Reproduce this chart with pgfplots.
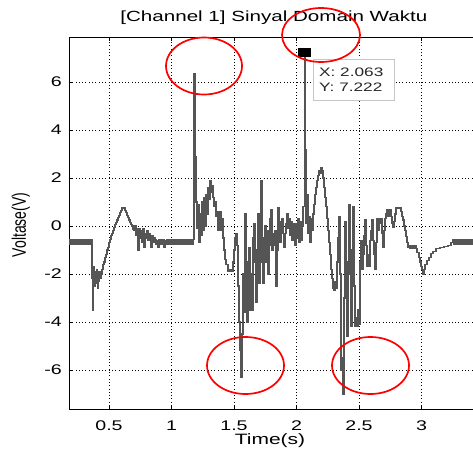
\documentclass[border=0pt]{standalone}
\usepackage{pgfplots}
\pgfplotsset{compat=1.18}
\usepackage{fontspec}
\setmainfont{Liberation Sans}
\newfontfamily\wf[FakeStretch=1.4]{Liberation Sans}
\definecolor{sig}{RGB}{85,85,85}
\begin{document}
\begin{tikzpicture}
\begin{axis}[
 at={(0pt,0pt)}, anchor=south west,
 scale only axis, width=411pt, height=372pt,
 xmin=0.18, xmax=3.468, ymin=-7.625, ymax=7.875,
 xtick={0.5,1,1.5,2,2.5,3}, ytick={-6,-4,-2,0,2,4,6},
 xticklabels={0.5,1,1.5,2,2.5,3},
 yticklabels={-6,-4,-2,0,2,4,6},
 grid=major, grid style={black, line width=0.6pt, dash pattern=on 0.7pt off 2.6pt},
 axis line style={black, line width=0.8pt},
 tick align=inside, major tick length=4pt, tick style={black, line width=0.6pt},
 xticklabel style={font=\wf\fontsize{14}{16}\selectfont, anchor=base, inner sep=0pt, yshift=-21pt},
 yticklabel style={font=\wf\fontsize{14}{16}\selectfont, anchor=east, inner sep=0pt, xshift=-7pt},
 title={[Channel 1] Sinyal Domain Waktu},
 title style={font=\wf\fontsize{14.7}{17}\selectfont, at={(axis description cs:0.4985,1)}, anchor=base, yshift=9.5pt, inner sep=0pt},
 xlabel={Time(s)},
 xlabel style={font=\wf\fontsize{15}{17}\selectfont, at={(axis description cs:0.489,0)}, anchor=base, yshift=-35pt, inner sep=0pt},
 ylabel={\scalebox{1}[1.4]{Voltase(V)}},
 ylabel style={font=\fontsize{14}{16}\selectfont, at={(axis description cs:-0.117,0.495)}, anchor=center, rotate=0, inner sep=0pt},
 clip=false,
]
\addplot[const plot, color=sig, line width=1.1pt] table {
x y
0.180 -0.55
0.188 -0.78
0.196 -0.55
0.204 -0.78
0.212 -0.55
0.220 -0.78
0.228 -0.55
0.236 -0.78
0.244 -0.55
0.252 -0.78
0.260 -0.55
0.268 -0.78
0.276 -0.55
0.284 -0.78
0.292 -0.55
0.300 -0.78
0.308 -0.55
0.316 -0.78
0.324 -0.55
0.332 -0.78
0.340 -0.55
0.348 -0.78
0.356 -0.55
0.364 -2.2
0.372 -3.5
0.376 -2.0
0.380 -1.7
0.384 -2.5
0.388 -2.0
0.392 -2.4
0.396 -1.9
0.400 -2.2
0.404 -1.8
0.408 -2.6
0.412 -2.0
0.416 -2.3
0.420 -1.9
0.428 -2.2
0.436 -2.0
0.444 -1.8
0.452 -1.6
0.460 -1.5
0.468 -1.3
0.476 -1.2
0.484 -1.0
0.492 -0.9
0.500 -0.7
0.508 -0.55
0.516 -0.4
0.524 -0.3
0.532 -0.2
0.540 -0.05
0.548 0.05
0.556 0.15
0.564 0.25
0.572 0.35
0.580 0.45
0.588 0.55
0.596 0.65
0.604 0.75
0.620 0.75
0.628 0.65
0.636 0.55
0.644 0.45
0.652 0.35
0.660 0.25
0.668 0.15
0.676 0.05
0.684 0.0
0.692 -0.15
0.700 -0.2
0.708 0.0
0.716 -0.4
0.724 -0.1
0.732 -1.0
0.740 -0.1
0.748 -0.5
0.756 -0.2
0.764 -0.7
0.772 -0.1
0.780 -0.9
0.788 -0.3
0.796 -0.5
0.804 -0.2
0.812 -0.6
0.820 -0.3
0.828 -0.5
0.836 -0.9
0.844 -0.4
0.852 -0.7
0.860 -0.5
0.868 -0.55
0.876 -0.75
0.884 -0.6
0.892 -0.9
0.900 -0.55
0.908 -0.75
0.916 -0.55
0.924 -0.75
0.932 -0.55
0.940 -0.9
0.948 -0.6
0.956 -0.75
0.964 -0.55
0.972 -0.75
0.980 -0.55
0.988 -0.75
0.996 -0.55
1.004 -0.75
1.012 -0.55
1.020 -0.75
1.028 -0.55
1.036 -0.75
1.044 -0.55
1.052 -0.75
1.060 -0.55
1.068 -0.75
1.076 -0.55
1.084 -0.75
1.092 -0.55
1.100 -0.75
1.108 -0.55
1.116 -0.75
1.124 -0.55
1.132 -0.75
1.140 -0.55
1.148 -0.75
1.156 -0.55
1.164 -0.75
1.172 -0.55
1.180 6.35
1.188 2.9
1.196 1.0
1.204 -0.1
1.212 0.9
1.220 -0.7
1.228 0.5
1.236 -0.4
1.244 1.0
1.252 -0.2
1.260 1.2
1.268 0.0
1.276 1.3
1.284 0.5
1.292 1.6
1.300 1.1
1.308 1.9
1.316 1.4
1.324 1.7
1.332 1.2
1.340 0.8
1.348 1.0
1.356 0.4
1.364 0.6
1.372 -0.2
1.380 0.3
1.388 0.6
1.396 -0.2
1.404 0.3
1.412 -0.5
1.420 -1.0
1.428 -1.4
1.436 -1.6
1.452 -1.9
1.468 -1.8
1.484 -1.9
1.492 -1.5
1.500 -1.0
1.508 -0.5
1.516 -0.3
1.524 -0.8
1.532 -2.5
1.540 -4.0
1.548 -5.2
1.556 -6.3
1.564 -4.5
1.572 -2.0
1.580 -3.6
1.588 0.5
1.596 -1.5
1.604 -4.0
1.612 -2.5
1.620 -0.9
1.628 -3.5
1.636 -2.0
1.644 -3.5
1.652 -0.5
1.660 0.1
1.668 -1.5
1.676 -3.2
1.684 -1.0
1.692 0.5
1.700 -2.4
1.708 -1.5
1.716 1.9
1.724 -0.5
1.732 -2.4
1.740 -1.0
1.748 0.0
1.756 -1.5
1.764 -0.2
1.772 -2.0
1.780 -0.8
1.788 0.3
1.796 0.67
1.804 -1.0
1.812 -0.3
1.820 -0.8
1.828 -0.2
1.836 -2.5
1.844 -1.0
1.852 0.75
1.860 0.2
1.868 -0.7
1.876 -0.2
1.884 0.3
1.892 -0.3
1.900 -0.9
1.908 -0.3
1.916 0.1
1.924 0.5
1.932 -0.1
1.940 0.3
1.948 -0.4
1.956 0.2
1.964 -0.6
1.972 0.1
1.980 -0.3
1.988 -0.8
1.996 0.1
2.004 -0.5
2.012 0.3
2.020 -0.7
2.028 0.2
2.036 -0.6
2.044 0.0
2.052 0.8
2.063 7.222
2.068 3.2
2.076 0.1
2.084 1.3
2.092 -0.3
2.100 0.4
2.108 -0.7
2.116 0.3
2.124 -0.2
2.132 0.5
2.140 0.9
2.148 1.3
2.156 1.6
2.164 1.9
2.172 2.1
2.180 2.3
2.188 2.2
2.196 2.45
2.204 2.3
2.212 2.0
2.220 1.6
2.228 1.2
2.236 0.8
2.244 0.3
2.252 -0.2
2.260 -0.7
2.268 -1.2
2.276 -1.8
2.284 -2.2
2.292 -2.6
2.300 -2.7
2.308 -2.3
2.316 -2.6
2.324 -1.5
2.332 -0.5
2.340 0.4
2.348 -2.0
2.356 -6.0
2.364 -5.5
2.372 -7.0
2.380 -3.0
2.388 0.2
2.396 -2.5
2.404 -4.6
2.412 -1.5
2.420 0.9
2.428 -2.0
2.436 -4.2
2.444 -1.0
2.452 0.8
2.460 -2.5
2.468 -4.2
2.476 -3.8
2.484 -4.2
2.492 -3.5
2.500 -4.1
2.508 -1.5
2.516 -0.6
2.524 -1.8
2.532 -1.2
2.540 -0.4
2.548 0.25
2.556 -0.8
2.564 -1.7
2.572 -1.2
2.580 -1.7
2.588 -0.6
2.596 -0.2
2.604 0.25
2.612 -0.6
2.620 -1.2
2.628 -1.8
2.636 -0.7
2.644 0.3
2.652 -0.2
2.660 0.3
2.668 0.1
2.676 0.3
2.684 -0.3
2.692 -0.9
2.700 -0.2
2.708 0.3
2.716 0.5
2.724 0.67
2.732 0.4
2.740 0.55
2.748 0.7
2.756 0.4
2.764 0.1
2.772 -0.05
2.780 0.2
2.788 0.5
2.796 0.75
2.836 0.6
2.844 0.4
2.852 0.25
2.860 0.0
2.868 -0.2
2.876 -0.45
2.884 -0.7
2.892 -0.9
2.900 -0.8
2.908 -0.95
2.916 -0.8
2.924 -0.95
2.932 -0.8
2.940 -0.95
2.948 -0.8
2.956 -0.95
2.964 -1.1
2.972 -1.1
2.980 -1.3
2.988 -1.5
2.996 -1.7
3.004 -1.8
3.012 -2.0
3.020 -1.8
3.028 -1.6
3.044 -1.45
3.060 -1.3
3.076 -1.15
3.092 -1.05
3.116 -0.95
3.148 -0.9
3.180 -0.85
3.212 -0.8
3.236 -0.7
3.252 -0.55
3.260 -0.75
3.268 -0.55
3.276 -0.75
3.284 -0.55
3.292 -0.75
3.300 -0.55
3.308 -0.75
3.316 -0.55
3.324 -0.75
3.332 -0.55
3.340 -0.75
3.348 -0.55
3.356 -0.75
3.364 -0.55
3.372 -0.75
3.380 -0.55
3.388 -0.75
3.396 -0.55
3.404 -0.75
3.412 -0.55
3.420 -0.75
};
\addplot[only marks, mark=square*, mark size=4pt, mark options={xscale=1.5, fill=black, draw=black}] coordinates {(2.063,7.222)};
\end{axis}
% data tip box
\draw[draw=gray!45, fill=white, line width=0.9pt] (244pt,309pt) rectangle (325pt,350pt);
\node[anchor=base west, inner sep=0pt, font=\wf\fontsize{12.3}{14}\selectfont, text=black!85] at (250pt,333pt) {X: 2.063};
\node[anchor=base west, inner sep=0pt, font=\wf\fontsize{12.3}{14}\selectfont, text=black!85] at (250pt,318pt) {Y: 7.222};
% red annotation ellipses
\draw[red, line width=1.7pt] (135pt,343pt) ellipse [x radius=38pt, y radius=28.5pt];
\draw[red, line width=1.7pt] (252pt,374pt) ellipse [x radius=39pt, y radius=27pt];
\draw[red, line width=1.7pt] (176.5pt,43.5pt) ellipse [x radius=38.5pt, y radius=28.5pt];
\draw[red, line width=1.7pt] (301.5pt,43.5pt) ellipse [x radius=38.5pt, y radius=28.5pt];
\pgfresetboundingbox
\useasboundingbox (-69pt,-39pt) rectangle (404pt,409pt);
\end{tikzpicture}
\end{document}
